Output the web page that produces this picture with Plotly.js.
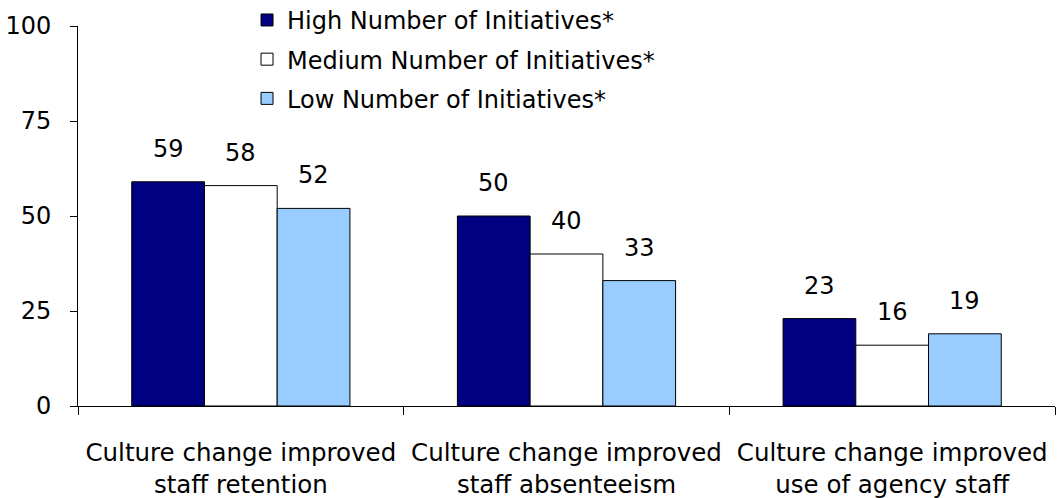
<!DOCTYPE html>
<html>
<head>
<meta charset="utf-8">
<script src="https://cdn.plot.ly/plotly-3.0.1.min.js"></script>
<style>html,body{margin:0;padding:0;background:#fff;}#chart{width:1058px;height:498px;}</style>
</head>
<body>
<div id="chart"></div>
<script>
var categories = [
  "Culture change improved<br>staff retention",
  "Culture change improved<br>staff absenteeism",
  "Culture change improved<br>use of agency staff"
];
var seriesNames = ["High Number of Initiatives*", "Medium Number of Initiatives*", "Low Number of Initiatives*"];
var highValues = [59, 50, 23];
var mediumValues = [58, 40, 16];
var lowValues = [52, 33, 19];
var yTickValues = [0, 25, 50, 75, 100];

var colors = ["#000080", "#FFFFFF", "#99CCFF"];
var allValues = [highValues, mediumValues, lowValues];
var font = "DejaVu Sans, Verdana, sans-serif";
var bargap = 0.33;

var traces = allValues.map(function(vals, i) {
  return {
    type: "bar",
    name: seriesNames[i],
    x: categories,
    y: vals,
    legendgroup: "g" + i,
    marker: {color: colors[i], line: {color: "#000000", width: 1}},
    hoverinfo: "skip"
  };
});

var annotations = [];
var w = (1 - bargap) / 3;
allValues.forEach(function(vals, i) {
  vals.forEach(function(v, j) {
    annotations.push({
      xref: "x", yref: "y",
      x: j + (i - 1) * w,
      y: v,
      text: String(v),
      showarrow: false,
      yanchor: "middle",
      yshift: 33,
      font: {family: font, size: 24, color: "#000"}
    });
  });
});

var layout = {
  width: 1058, height: 498,
  margin: {l: 78, r: 3, t: 26, b: 92, autoexpand: false},
  paper_bgcolor: "#fff", plot_bgcolor: "#fff",
  barmode: "group", bargap: bargap, bargroupgap: 0,
  font: {family: font, size: 24, color: "#000"},
  showlegend: true,
  legend: {
    x: 0.173, y: 1.074, xanchor: "left", yanchor: "top",
    bgcolor: "rgba(0,0,0,0)",
    font: {family: font, size: 24, color: "#000"},
    tracegroupgap: 5
  },
  xaxis: {
    type: "category",
    showline: true, linecolor: "#000", linewidth: 1,
    ticks: "outside", tickson: "boundaries", ticklen: 8, tickcolor: "#000",
    showgrid: false, zeroline: false,
    ticklabelstandoff: 25,
    tickfont: {family: font, size: 24.5, color: "#000"}
  },
  yaxis: {
    range: [0, 100],
    tickvals: yTickValues,
    showline: true, linecolor: "#000", linewidth: 1,
    ticks: "outside", ticklen: 7, tickcolor: "#000",
    showgrid: false, zeroline: false,
    ticklabelstandoff: 14,
    tickfont: {family: font, size: 24, color: "#000"}
  },
  annotations: annotations
};

Plotly.newPlot("chart", traces, layout, {displayModeBar: false, staticPlot: true});
</script>
</body>
</html>
